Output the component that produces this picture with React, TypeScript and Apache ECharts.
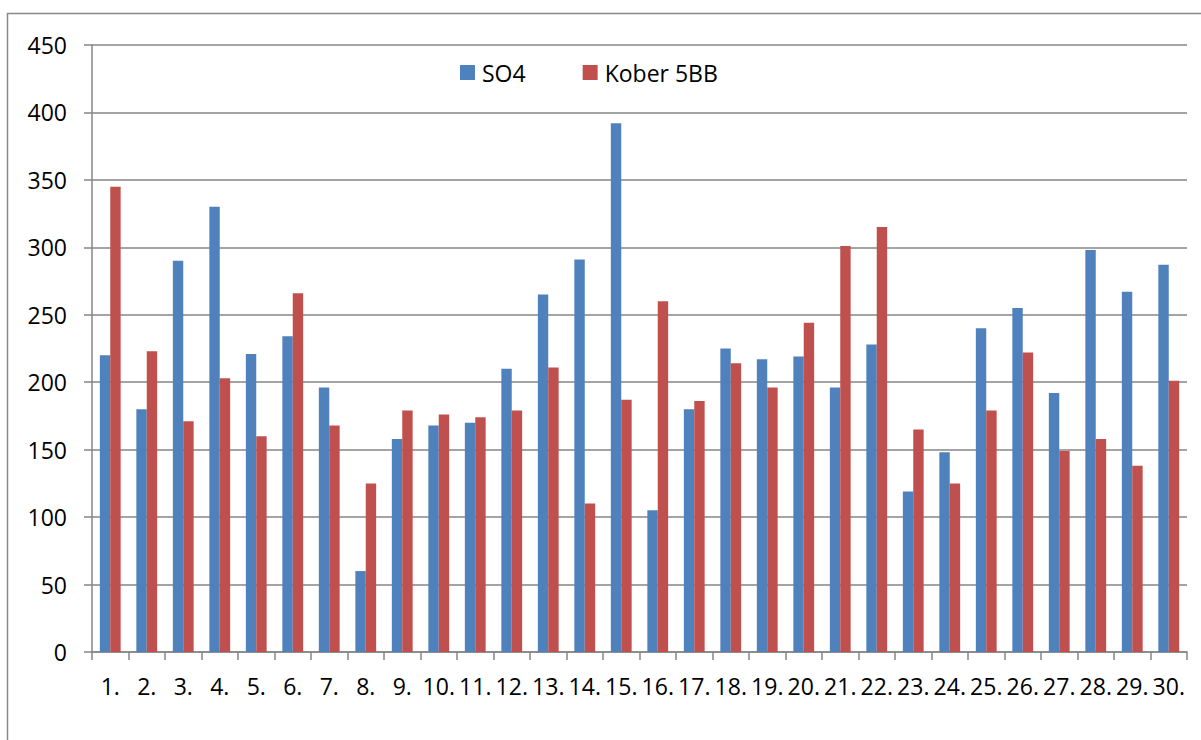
import React, { useEffect, useRef } from "react";
import * as echarts from "echarts";

const categories = ["1.", "2.", "3.", "4.", "5.", "6.", "7.", "8.", "9.", "10.", "11.", "12.", "13.", "14.", "15.", "16.", "17.", "18.", "19.", "20.", "21.", "22.", "23.", "24.", "25.", "26.", "27.", "28.", "29.", "30."];
const so4 = [220, 180, 290, 330, 221, 234, 196, 60, 158, 168, 170, 210, 265, 291, 392, 105, 180, 225, 217, 219, 196, 228, 119, 148, 240, 255, 192, 298, 267, 287];
const kober = [345, 223, 171, 203, 160, 266, 168, 125, 179, 176, 174, 179, 211, 110, 187, 260, 186, 214, 196, 244, 301, 315, 165, 125, 179, 222, 149, 158, 138, 201];
const seriesNames = ["SO4", "Kober 5BB"];

const FONT = "'Open Sans', 'Liberation Sans', sans-serif";

export default function App() {
  const ref = useRef<HTMLDivElement>(null);
  useEffect(() => {
    if (!ref.current) return;
    const chart = echarts.init(ref.current, null, { renderer: "svg" });
    chart.setOption({
      animation: false,
      backgroundColor: "#ffffff",
      textStyle: { fontFamily: FONT },
      graphic: [
        {
          type: "rect",
          shape: { x: 7.5, y: 13.5, width: 1200, height: 800 },
          style: { fill: "none", stroke: "#898989", lineWidth: 1.5 },
          silent: true,
        },
      ],
      legend: {
        left: 460,
        top: 61,
        padding: 0,
        itemWidth: 15,
        itemHeight: 15,
        itemGap: 57,
        icon: "rect",
        textStyle: { fontSize: 23, color: "#000", fontFamily: FONT, padding: [0, 0, 0, 2] },
        data: seriesNames,
      },
      grid: { left: 92, top: 45, right: 14, bottom: 88, containLabel: false },
      xAxis: {
        type: "category",
        data: categories,
        axisLine: { lineStyle: { color: "#868686", width: 1.5 } },
        axisTick: { show: true, length: 8, inside: false, alignWithLabel: false, lineStyle: { color: "#868686", width: 1.5 } },
        axisLabel: { fontSize: 23, color: "#000", margin: 22, interval: 0, fontFamily: FONT },
        splitLine: { show: false },
      },
      yAxis: {
        type: "value",
        min: 0,
        max: 450,
        interval: 50,
        axisLine: { show: true, lineStyle: { color: "#868686", width: 1.5 } },
        axisTick: { show: true, length: 8, lineStyle: { color: "#868686", width: 1.5 } },
        axisLabel: { fontSize: 23, color: "#000", margin: 25, fontFamily: FONT },
        splitLine: { show: true, lineStyle: { color: "#868686", width: 1.5 } },
      },
      series: [
        {
          name: seriesNames[0],
          type: "bar",
          data: so4,
          itemStyle: { color: "#4F81BD" },
          barGap: "0%",
          barCategoryGap: "43%",
        },
        {
          name: seriesNames[1],
          type: "bar",
          data: kober,
          itemStyle: { color: "#C0504D" },
          barGap: "0%",
          barCategoryGap: "43%",
        },
      ],
    });
    return () => chart.dispose();
  }, []);
  return (
    <div
      ref={ref}
      style={{ position: "absolute", left: 0, top: 0, width: 1201, height: 740 }}
    />
  );
}
